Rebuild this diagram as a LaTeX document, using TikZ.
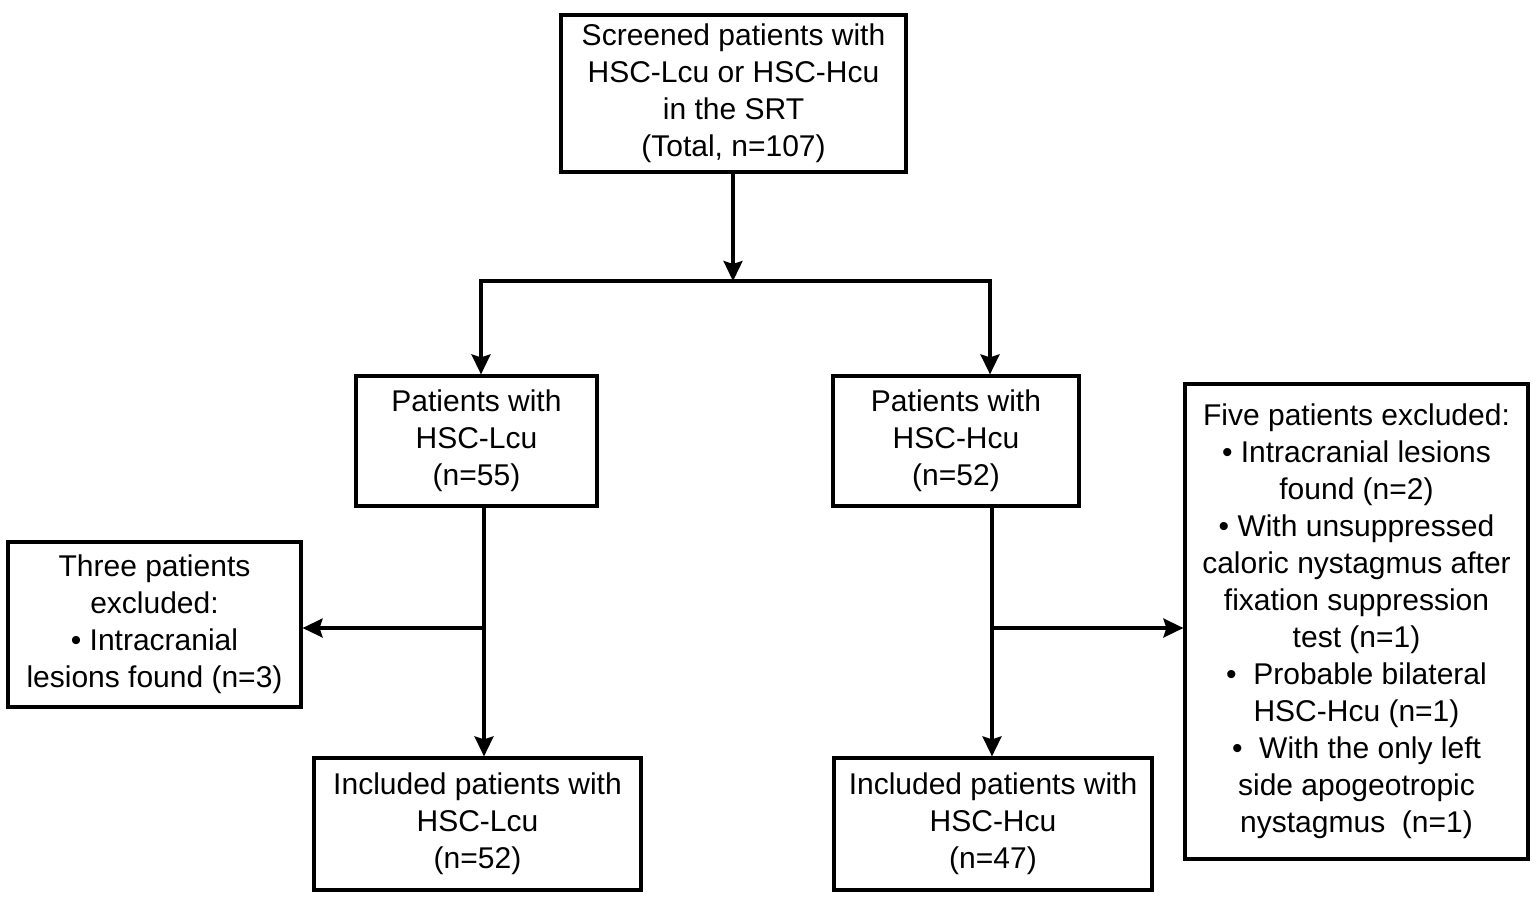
\documentclass[tikz,border=0pt]{standalone}
\usepackage{fontspec}
\setmainfont{Liberation Sans}
\usetikzlibrary{arrows.meta}

\begin{document}
\begin{tikzpicture}[x=0.5pt, y=-0.5pt,
    box/.style={draw, line width=1.6pt, align=center, inner sep=0pt,
        font=\fontsize{15}{18.5}\selectfont},
    arr/.style={line width=1.6pt, -{Stealth[length=10pt, width=9.5pt, inset=1.5pt]}}]
    \useasboundingbox (0, 0) rectangle (1536, 896);

    % Screened patients
    \node[box, minimum width=172.5pt, minimum height=78.5pt] (top) at (733.5, 93.5)
        {Screened patients with\\HSC-Lcu or HSC-Hcu\\in the SRT\\(Total, n=107)};

    % Two groups
    \node[box, minimum width=120.5pt, minimum height=65pt] (lcu) at (476.5, 441)
        {Patients with\\HSC-Lcu\\(n=55)};
    \node[box, minimum width=123pt, minimum height=65pt] (hcu) at (956, 441)
        {Patients with\\HSC-Hcu\\(n=52)};

    % Excluded
    \node[box, minimum width=146.5pt, minimum height=82.5pt] (exl) at (154.5, 624.5)
        {Three patients\\excluded:\\\textbullet{} Intracranial\\lesions found (n=3)};
    \node[box, minimum width=171.5pt, minimum height=237.5pt] (exh) at (1356.5, 621.5)
        {Five patients excluded:\\\textbullet{} Intracranial lesions\\found (n=2)\\
         \textbullet{} With unsuppressed\\caloric nystagmus after\\fixation suppression\\
         test (n=1)\\\textbullet{}\ \ Probable bilateral\\HSC-Hcu (n=1)\\
         \textbullet{}\ \ With the only left\\side apogeotropic\\nystagmus\ \ (n=1)};

    % Included
    \node[box, minimum width=163.5pt, minimum height=66pt] (incl) at (477.5, 824)
        {Included patients with\\HSC-Lcu\\(n=52)};
    \node[box, minimum width=159pt, minimum height=66pt] (inch) at (993, 824)
        {Included patients with\\HSC-Hcu\\(n=47)};

    % Connectors
    \coordinate (split) at (733, 281);
    \coordinate (lbr) at (481, 281);
    \coordinate (rbr) at (990, 281);
    \coordinate (lmid) at (484, 628);
    \coordinate (rmid) at (992, 628);

    \draw[arr] (top.south -| split) -- (split);
    \draw[arr] (split) -| (lcu.north -| lbr);
    \draw[arr] (split) -| (hcu.north -| rbr);

    \draw[arr] (lmid |- lcu.south) -- (lmid |- incl.north);
    \draw[arr] (lmid) -- (lmid -| exl.east);
    \draw[arr] (rmid |- hcu.south) -- (rmid |- inch.north);
    \draw[arr] (rmid) -- (rmid -| exh.west);
\end{tikzpicture}
\end{document}
